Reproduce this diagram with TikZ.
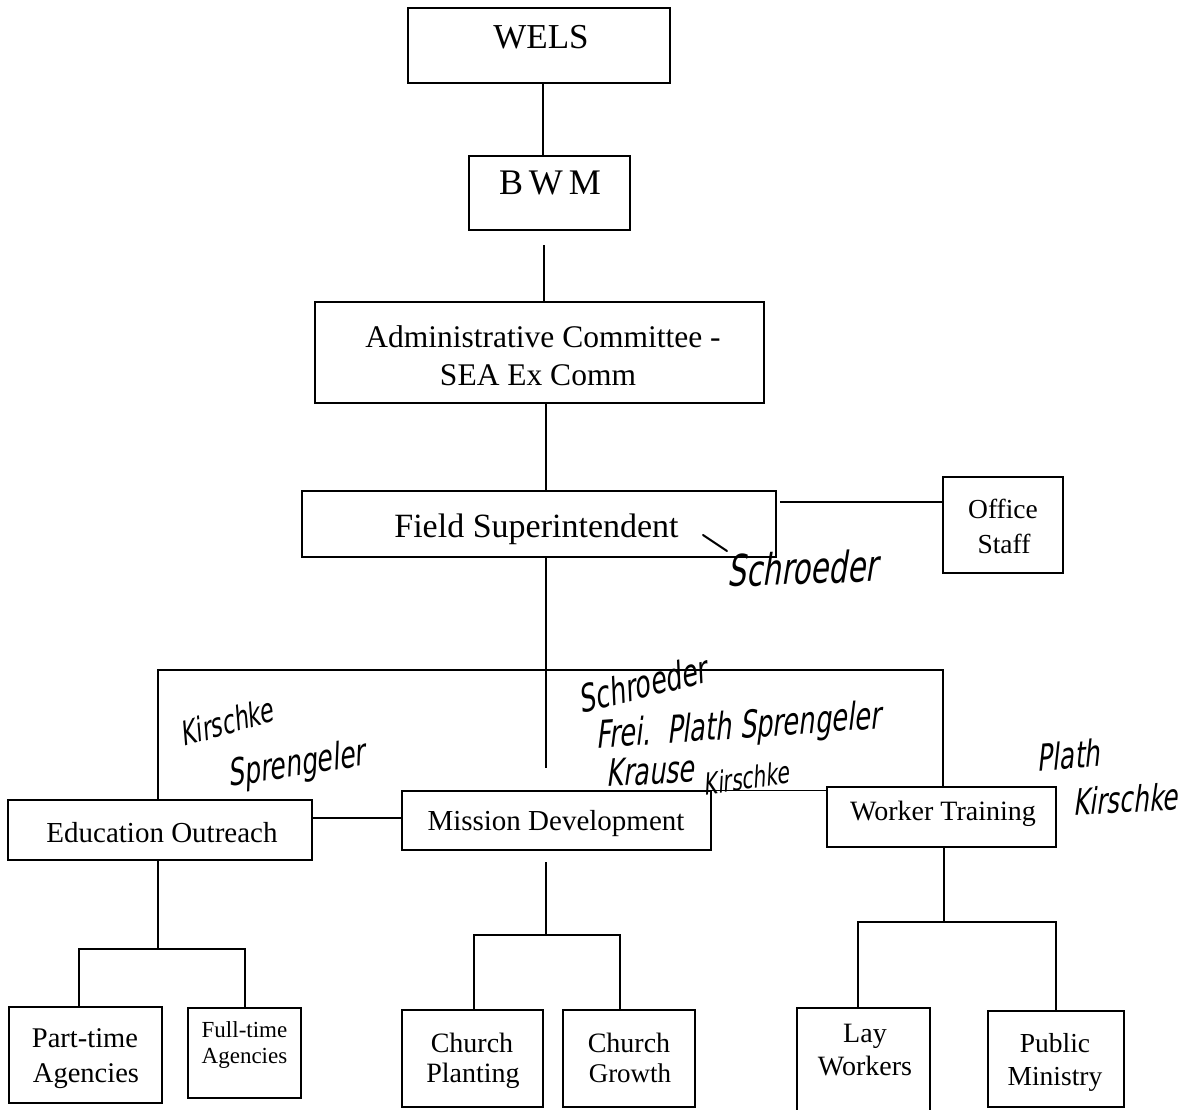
\documentclass[tikz,border=0pt]{standalone}
\usepackage{fontspec}
\setmainfont{Liberation Serif}
\newfontfamily\hand{DejaVu Sans}[FakeSlant=0.2,FakeStretch=0.68]
\usetikzlibrary{calc}
\newcommand\fsz[1]{\fontsize{#1}{#1}\selectfont}
\begin{document}
\begin{tikzpicture}[x=1pt,y=-1pt,
  box/.style={draw, line width=1.5pt, inner sep=0pt},
  lbl/.style={anchor=base, inner sep=0pt},
  conn/.style={line width=1.5pt, line cap=rect},
  hw/.style={font=\hand, inner sep=0pt, anchor=center}]
\fill[white] (0,0) rectangle (1181,1110);
\useasboundingbox (0,0) rectangle (1181,1110);
\clip (0,0) rectangle (1181,1110);

% boxes
\node[box, minimum width=262pt, minimum height=75pt] (wels) at (539,45.5) {};
\node[box, minimum width=161pt, minimum height=74pt] (bwm) at (549.5,193) {};
\node[box, minimum width=449pt, minimum height=101pt] (adm) at (539.5,352.5) {};
\node[box, minimum width=474pt, minimum height=66pt] (fs) at (539,524) {};
\node[box, minimum width=120pt, minimum height=96pt] (office) at (1003,525) {};
\node[box, minimum width=304pt, minimum height=60pt] (eo) at (160,830) {};
\node[box, minimum width=309pt, minimum height=59pt] (md) at (556.5,820.5) {};
\node[box, minimum width=229pt, minimum height=60pt] (wt) at (941.5,817) {};
\node[box, minimum width=153pt, minimum height=96pt] (pt) at (85.5,1055) {};
\node[box, minimum width=113pt, minimum height=90pt] (ft) at (244.5,1053) {};
\node[box, minimum width=141pt, minimum height=97pt] (cp) at (472.5,1058.5) {};
\node[box, minimum width=132pt, minimum height=97pt] (cg) at (629,1058.5) {};
\node[box, minimum width=133pt, minimum height=120pt] (lw) at (863.5,1068) {};
\node[box, minimum width=136pt, minimum height=96pt] (pm) at (1056,1059) {};

% labels
\node[lbl, font=\fsz{35}] (welsT) at (541,49) {WELS};
\node[lbl, font=\fsz{36}] (bwmT) at (550,195) {B\,W\,M};
\node[lbl, font=\fsz{31.5}] (admT1) at (543,347) {Administrative Committee -};
\node[lbl, font=\fsz{31.5}] (admT2) at (538,385) {SEA Ex Comm};
\node[lbl, font=\fsz{34}] (fsT) at (536.5,537) {Field Superintendent};
\node[lbl, font=\fsz{27.5}] (officeT1) at (1003,518) {Office};
\node[lbl, font=\fsz{27.5}] (officeT2) at (1004,553) {Staff};
\node[lbl, font=\fsz{29}] (eoT) at (162,842) {Education Outreach};
\node[lbl, font=\fsz{29}] (mdT) at (556,830) {Mission Development};
\node[lbl, font=\fsz{28}] (wtT) at (943,820) {Worker Training};
\node[lbl, font=\fsz{28.5}] (ptT1) at (85,1047) {Part-time};
\node[lbl, font=\fsz{28.5}] (ptT2) at (86,1082) {Agencies};
\node[lbl, font=\fsz{23}] (ftT1) at (244.5,1037) {Full-time};
\node[lbl, font=\fsz{23}] (ftT2) at (244.5,1063) {Agencies};
\node[lbl, font=\fsz{28}] (cpT1) at (472,1052) {Church};
\node[lbl, font=\fsz{28}] (cpT2) at (473,1082) {Planting};
\node[lbl, font=\fsz{28}] (cgT1) at (629,1052) {Church};
\node[lbl, font=\fsz{27}] (cgT2) at (630,1082) {Growth};
\node[lbl, font=\fsz{28}] (lwT1) at (865,1042) {Lay};
\node[lbl, font=\fsz{28}] (lwT2) at (865,1075) {Workers};
\node[lbl, font=\fsz{27.5}] (pmT1) at (1055,1052) {Public};
\node[lbl, font=\fsz{27.5}] (pmT2) at (1055,1085) {Ministry};

% connectors
\draw[conn] (wels.south -| 543,0) -- (bwm.north -| 543,0);
\draw[conn, shorten <=15pt] (bwm.south -| 544,0) -- (adm.north -| 544,0);
\draw[conn] (adm.south -| 546,0) -- (fs.north -| 546,0);
\coordinate (stemEnd) at (546,767);
\draw[conn] (fs.south -| 546,0) -- (stemEnd);
\draw[conn, line cap=butt, shorten <=3pt] (fs.east |- 0,502) -- (office.west |- 0,502);
\draw[conn] (eo.north -| 158,0) -- (158,670) -- (943,670) -- (wt.north -| 943,0);
\draw[conn] (md.north east) -- (wt.west |- md.north east);
\draw[conn, line cap=butt] (eo.east |- 0,818) -- (md.west |- 0,818);
% Education Outreach subtree
\draw[conn] (eo.south -| 158,0) -- (158,949);
\draw[conn] (pt.north -| 79,0) -- (79,949) -- (245,949) -- (ft.north -| 245,0);
% Mission Development subtree
\draw[conn, shorten <=12pt] (md.south -| 546,0) -- (546,935);
\draw[conn] (cp.north -| 474,0) -- (474,935) -- (620,935) -- (cg.north -| 620,0);
% Worker Training subtree
\draw[conn] (wt.south -| 944,0) -- (944,922);
\draw[conn] (lw.north -| 858,0) -- (858,922) -- (1056,922) -- (pm.north -| 1056,0);

% handwritten notes
\node[hw, rotate=2] (hSchr1) at (802,568) {\resizebox{150pt}{!}{Schroeder}};
\coordinate (hTip) at (703,535);
\coordinate (hTail) at (727,551);
\draw[line width=2pt, line cap=round] (hTip) -- (hTail);
\node[hw, rotate=16] (hKir1) at (226,722) {\resizebox{95pt}{!}{Kirschke}};
\node[hw, rotate=9] (hSpr1) at (296,766) {\resizebox{138pt}{!}{Sprengeler}};
\node[hw, rotate=14] (hSchr2) at (642,684) {\resizebox{131pt}{!}{Schroeder}};
\node[hw, rotate=4] (hFrei) at (738,728) {\resizebox{285pt}{!}{Frei.\ \ Plath Sprengeler}};
\node[hw, rotate=3] (hKrause) at (650,771) {\resizebox{88pt}{!}{Krause}};
\node[hw, rotate=8] (hKir2) at (746,778) {\resizebox{86pt}{!}{Kirschke}};
\node[hw, rotate=5] (hPlath) at (1068,755) {\resizebox{63pt}{!}{Plath}};
\node[hw, rotate=3] (hKir3) at (1125,799) {\resizebox{104pt}{!}{Kirschke}};
\end{tikzpicture}
\end{document}
